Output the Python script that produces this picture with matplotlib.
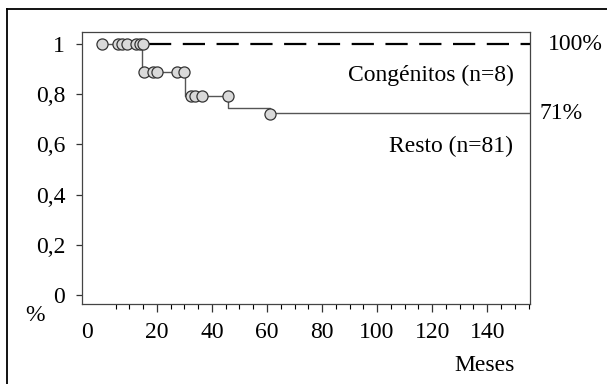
import matplotlib
matplotlib.use("Agg")
from matplotlib import pyplot as plt
from matplotlib.lines import Line2D

plt.rcParams['font.family'] = ['Liberation Serif', 'DejaVu Serif']

# curva "Resto" (escalones) y censuras
resto_t = [0, 14.5, 14.5, 30.2, 30.2, 46, 46, 61, 61, 155.5]
resto_s = [1, 1, 0.888, 0.888, 0.793, 0.793, 0.746, 0.746, 0.725, 0.725]
cens_t = [0, 6, 7.5, 9, 12.5, 14, 15, 15.5, 18.5, 20, 27.5, 30, 32.5, 34, 36.5, 46, 61]
cens_s = [1, 1, 1, 1, 1, 1, 1, 0.888, 0.888, 0.888, 0.888, 0.888,
          0.793, 0.793, 0.793, 0.793, 0.72]
# curva "Congénitos"
cong_t = [17, 155.5]
cong_s = [1, 1]

xticks = [-5.3, 20, 40, 60, 80, 100, 120, 140]
xlabels = ['0', '20', '40', '60', '80', '100', '120', '140']
yticks = [0, 0.2, 0.4, 0.6, 0.8, 1]
ylabels = ['0', '0,2', '0,4', '0,6', '0,8', '1']

fig = plt.figure(figsize=(6.07, 3.84), dpi=100)
ax = fig.add_axes([0.135, 0.2083, 0.738, 0.7084])

ax.plot(cong_t, cong_s, color='black', lw=1.6, dashes=(10, 5.2), zorder=2)
ax.plot(resto_t, resto_s, color='#555555', lw=1.0, zorder=3)
ax.plot(cens_t, cens_s, ls='none', marker='o', ms=8, mfc='#d9d9d9',
        mec='#333333', mew=0.9, zorder=4)

ax.set_xlim(-7.2, 155.5)
ax.set_ylim(-0.036, 1.048)
ax.set_xticks(xticks)
ax.set_xticklabels(xlabels)
ax.set_xticks(range(5, 156, 5), minor=True)
ax.set_yticks(yticks)
ax.set_yticklabels(ylabels)
ax.tick_params(axis='both', labelsize=17, color='#333333', width=0.9)
ax.tick_params(axis='x', which='major', length=6, pad=7)
ax.tick_params(axis='x', which='minor', length=3.5, width=0.8)
ax.tick_params(axis='y', which='major', length=4, pad=8)
ax.xaxis.get_major_ticks()[0].tick1line.set_visible(False)
for s in ax.spines.values():
    s.set_color('#444444')
    s.set_linewidth(0.9)

ax.text(149.5, 0.875, 'Congénitos (n=8)', fontsize=17, ha='right', va='center')
ax.text(149.5, 0.59, 'Resto (n=81)', fontsize=17, ha='right', va='center')
ax.text(1.04, 1.0, '100%', fontsize=17, ha='left', va='center',
        transform=ax.get_yaxis_transform())
ax.text(1.022, 0.725, '71%', fontsize=17, ha='left', va='center',
        transform=ax.get_yaxis_transform())

fig.text(0.058, 0.178, '%', fontsize=17, ha='center', va='center')
fig.text(0.798, 0.048, 'Meses', fontsize=17, ha='center', va='center')

# marco exterior (solo arriba e izquierda)
fig.add_artist(Line2D([0.0115, 1.0], [0.9766, 0.9766], color='black', lw=1.3,
                      transform=fig.transFigure))
fig.add_artist(Line2D([0.0115, 0.0115], [0.0, 0.9766], color='black', lw=1.3,
                      transform=fig.transFigure))

fig.savefig('out.png', dpi=100)
